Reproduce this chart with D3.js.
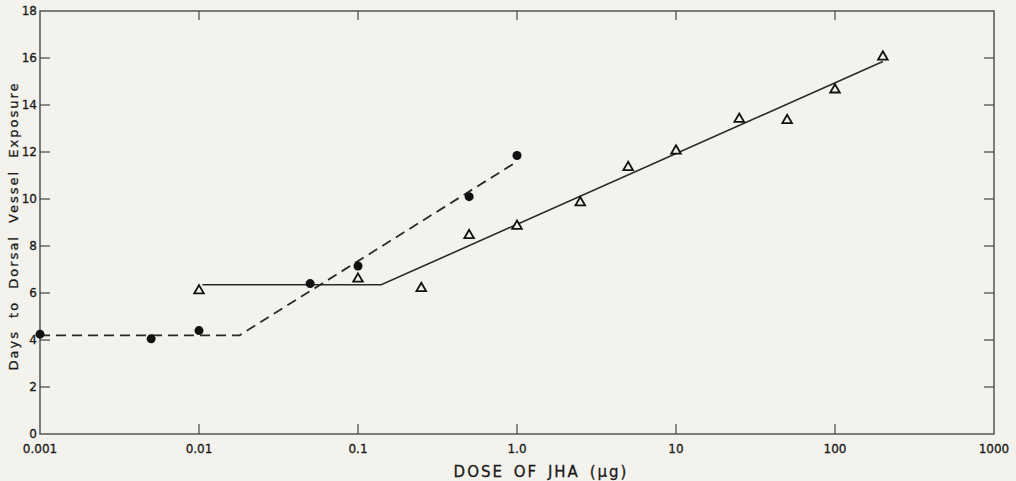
<!DOCTYPE html>
<html>
<head>
<meta charset="utf-8">
<script src="https://cdn.jsdelivr.net/npm/d3@7"></script>
<style>
  html, body { margin: 0; padding: 0; background: #f4f2ec; }
  svg { display: block; }
  text { font-family: "DejaVu Sans", sans-serif; fill: #1a1a1a; stroke: #1a1a1a; stroke-width: 0.3; }
</style>
</head>
<body>
<svg width="1016" height="481"></svg>
<script>
// filled circles (dashed fit)
var circleDose = [0.001, 0.005, 0.01, 0.05, 0.1, 0.5, 1.0];
var circleDays = [4.25, 4.05, 4.4, 6.4, 7.15, 10.1, 11.85];

// open triangles (solid fit)
var triDose = [0.01, 0.1, 0.25, 0.5, 1.0, 2.5, 5, 10, 25, 50, 100, 200];
var triDays = [6.1, 6.6, 6.2, 8.45, 8.85, 9.85, 11.35, 12.05, 13.4, 13.35, 14.65, 16.05];

// fitted lines
var dashDose = [0.001, 0.018, 0.95];
var dashDays = [4.2, 4.2, 11.5];
var solidDose = [0.0105, 0.14, 200];
var solidDays = [6.35, 6.35, 15.85];

// axis ticks
var xTicks = [0.001, 0.01, 0.1, 1, 10, 100, 1000];
var xTickLabels = ["0.001", "0.01", "0.1", "1.0", "10", "100", "1000"];
var yTicks = [0, 2, 4, 6, 8, 10, 12, 14, 16, 18];

var svg = d3.select('svg');

var x = d3.scaleLog()
    .domain([0.001, 1000])
    .range([40, 994]);

var y = d3.scaleLinear()
    .domain([0, 18])
    .range([434, 11]);

var ink = "#2a2a2a";

// frame
svg.append("rect")
    .attr("x", x(0.001))
    .attr("y", y(18))
    .attr("width", x(1000) - x(0.001))
    .attr("height", y(0) - y(18))
    .attr("fill", "none")
    .attr("stroke", "#4a4a4a")
    .attr("stroke-width", 1.4);

// inner x ticks (bottom + top)
var innerX = xTicks.slice(1, -1);
svg.append("g").selectAll("line.bt")
    .data(innerX).enter().append("line")
    .attr("x1", d => x(d)).attr("x2", d => x(d))
    .attr("y1", y(0)).attr("y2", y(0) - 10)
    .attr("stroke", "#444").attr("stroke-width", 1.2);
svg.append("g").selectAll("line.tt")
    .data(innerX).enter().append("line")
    .attr("x1", d => x(d)).attr("x2", d => x(d))
    .attr("y1", y(18)).attr("y2", y(18) + 9)
    .attr("stroke", "#444").attr("stroke-width", 1.2);

// y ticks left + right
var innerY = yTicks.slice(1, -1);
svg.append("g").selectAll("line")
    .data(innerY).enter().append("line")
    .attr("x1", x(0.001)).attr("x2", x(0.001) + 10)
    .attr("y1", d => y(d)).attr("y2", d => y(d))
    .attr("stroke", "#444").attr("stroke-width", 1.2);
svg.append("g").selectAll("line")
    .data(innerY).enter().append("line")
    .attr("x1", x(1000)).attr("x2", x(1000) - 10)
    .attr("y1", d => y(d)).attr("y2", d => y(d))
    .attr("stroke", "#444").attr("stroke-width", 1.2);

// tick labels
svg.append("g").selectAll("text")
    .data(xTicks).enter().append("text")
    .attr("x", d => x(d))
    .attr("y", 453)
    .attr("text-anchor", "middle")
    .attr("font-size", 12)
    .text((d, i) => xTickLabels[i]);

svg.append("g").selectAll("text")
    .data(yTicks).enter().append("text")
    .attr("x", 37)
    .attr("y", d => y(d) + 4)
    .attr("text-anchor", "end")
    .attr("font-size", 12)
    .text(d => d);

// axis titles
svg.append("text")
    .attr("x", 541)
    .attr("y", 477)
    .attr("text-anchor", "middle")
    .attr("font-size", 15)
    .attr("letter-spacing", 2)
    .attr("word-spacing", 3)
    .text("DOSE OF JHA (\u03bcg)");

svg.append("text")
    .attr("transform", "translate(18, 226) rotate(-90)")
    .attr("text-anchor", "middle")
    .attr("font-size", 13)
    .attr("letter-spacing", 2)
    .attr("word-spacing", 6)
    .text("Days to Dorsal Vessel Exposure");

// fitted lines
var line = d3.line().x(d => x(d[0])).y(d => y(d[1]));

svg.append("path")
    .attr("d", line(d3.zip(dashDose, dashDays)))
    .attr("fill", "none")
    .attr("stroke", ink)
    .attr("stroke-width", 1.8)
    .attr("stroke-dasharray", "10,6");

svg.append("path")
    .attr("d", line(d3.zip(solidDose, solidDays)))
    .attr("fill", "none")
    .attr("stroke", ink)
    .attr("stroke-width", 1.6);

// points
svg.append("g").selectAll("circle")
    .data(d3.zip(circleDose, circleDays)).enter().append("circle")
    .attr("cx", d => x(d[0]))
    .attr("cy", d => y(d[1]))
    .attr("r", 4.5)
    .attr("fill", "#111");

var tri = d3.symbol().type(d3.symbolTriangle).size(40);
svg.append("g").selectAll("path")
    .data(d3.zip(triDose, triDays)).enter().append("path")
    .attr("transform", d => "translate(" + x(d[0]) + "," + y(d[1]) + ")")
    .attr("d", tri)
    .attr("fill", "#f4f2ec")
    .attr("stroke", "#111")
    .attr("stroke-width", 1.8);
</script>
</body>
</html>
